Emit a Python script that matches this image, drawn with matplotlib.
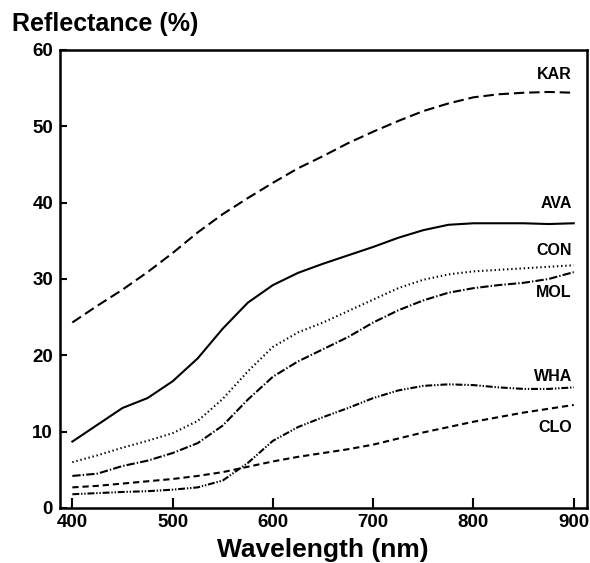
import matplotlib
matplotlib.use('Agg')
from matplotlib import pyplot as plt

wavelength = [400, 425, 450, 475, 500, 525, 550, 575, 600, 625, 650,
              675, 700, 725, 750, 775, 800, 825, 850, 875, 900]

kar = [24.3, 26.5, 28.6, 30.9, 33.4, 36.1, 38.5, 40.6, 42.6, 44.5, 46.1,
       47.8, 49.3, 50.7, 52.0, 53.0, 53.8, 54.2, 54.4, 54.5, 54.4]
ava = [8.7, 10.9, 13.1, 14.4, 16.6, 19.6, 23.5, 26.9, 29.2, 30.8, 32.0,
       33.1, 34.2, 35.4, 36.4, 37.1, 37.3, 37.3, 37.3, 37.2, 37.3]
con = [6.0, 6.9, 7.9, 8.8, 9.8, 11.4, 14.3, 17.9, 21.1, 23.0, 24.3,
       25.8, 27.3, 28.8, 29.9, 30.6, 31.0, 31.2, 31.4, 31.6, 31.8]
mol = [4.2, 4.5, 5.5, 6.2, 7.2, 8.5, 10.8, 14.2, 17.2, 19.2, 20.8,
       22.4, 24.3, 25.9, 27.2, 28.2, 28.8, 29.2, 29.5, 30.0, 30.9]
wha = [1.8, 1.95, 2.1, 2.2, 2.4, 2.7, 3.6, 5.9, 8.8, 10.6, 11.9,
       13.1, 14.4, 15.4, 16.0, 16.2, 16.1, 15.8, 15.6, 15.6, 15.8]
clo = [2.7, 2.9, 3.2, 3.5, 3.8, 4.2, 4.7, 5.4, 6.1, 6.7, 7.2,
       7.7, 8.3, 9.1, 9.9, 10.6, 11.3, 11.9, 12.5, 13.0, 13.5]

names = ['KAR', 'AVA', 'CON', 'MOL', 'WHA', 'CLO']
label_y = [56.8, 39.9, 33.7, 28.2, 17.2, 10.5]

plt.rcParams['font.family'] = ['Liberation Sans', 'DejaVu Sans']
plt.rcParams['font.weight'] = 'bold'
plt.rcParams['lines.scale_dashes'] = False

fig = plt.figure(figsize=(5.9, 5.63), dpi=100)
ax = fig.add_axes([0.1017, 0.0977, 0.8932, 0.8135])

styles = [
    (0, (7.5, 3.5)),               # KAR long dash
    '-',                           # AVA solid
    (0, (1, 2)),                   # CON dotted
    (0, (6, 1.5, 1, 1.5)),         # MOL dash-dot
    (0, (5, 1.3, 1, 1.3, 1, 1.3)),  # WHA dash-dot-dot
    (0, (4.5, 2.8)),               # CLO short dash
]
series = [kar, ava, con, mol, wha, clo]
for vals, ls in zip(series, styles):
    ax.plot(wavelength, vals, color='black', linestyle=ls, linewidth=1.5)

for name, y in zip(names, label_y):
    ax.text(898, y, name, ha='right', va='center', fontsize=11.5, fontweight='bold')

ax.set_xlim(387.7, 913.2)
ax.set_ylim(0, 60)
ax.set_xticks([400, 500, 600, 700, 800, 900])
ax.set_yticks([0, 10, 20, 30, 40, 50, 60])

for s in ax.spines.values():
    s.set_linewidth(1.8)
ax.tick_params(axis='x', direction='in', length=7, width=1.5, labelsize=13.5, pad=4)
ax.tick_params(axis='y', direction='in', length=5, width=1.5, labelsize=13.5, pad=5)
for lab in ax.get_xticklabels() + ax.get_yticklabels():
    lab.set_fontweight('bold')

fig.text(0.02, 0.945, 'Reflectance (%)', fontsize=18, fontweight='bold', ha='left', va='baseline')
fig.text(0.547, 0.002, 'Wavelength (nm)', fontsize=19, fontweight='bold', ha='center', va='bottom')

plt.savefig('out.png', dpi=100)
